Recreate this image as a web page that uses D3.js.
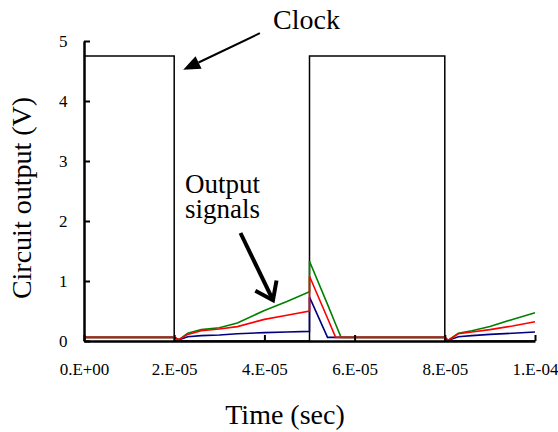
<!DOCTYPE html>
<html>
<head>
<meta charset="utf-8">
<script src="https://cdn.jsdelivr.net/npm/d3@7"></script>
<style>
  body { margin: 0; background: #fff; }
</style>
</head>
<body>
<script>
// time axis (sec)
const xTicks = [0, 2e-5, 4e-5, 6e-5, 8e-5, 1e-4];
const xTickLabels = ['0.E+00', '2.E-05', '4.E-05', '6.E-05', '8.E-05', '1.E-04'];
const yTicks = [0, 1, 2, 3, 4, 5];

// clock square wave
const clockTime = [0, 2e-5, 2e-5, 5e-5, 5e-5, 8e-5, 8e-5, 1e-4];
const clockVolt = [4.75, 4.75, 0, 0, 4.75, 4.75, 0, 0];

// output signals, shared time grid (units of 1e-5 sec)
const sigTime = [0, 2.0, 2.1, 2.3, 2.6, 3.0, 3.4, 4.0, 4.5, 5.0, 5.0, 5.4, 5.58, 5.7, 8.0, 8.07, 8.3, 8.6, 9.0, 9.5, 10.0];
const blueVals  = [0.06, 0.06, 0.02, 0.07, 0.09, 0.10, 0.12, 0.14, 0.15, 0.16, 0.73, 0.06, 0.06, 0.06, 0.06, 0.01, 0.07, 0.09, 0.11, 0.13, 0.15];
const redVals   = [0.06, 0.06, 0.02, 0.11, 0.17, 0.20, 0.24, 0.36, 0.43, 0.50, 1.08, 0.38, 0.06, 0.06, 0.06, 0.01, 0.12, 0.15, 0.19, 0.25, 0.32];
const greenVals = [0.06, 0.06, 0.02, 0.13, 0.19, 0.22, 0.30, 0.51, 0.66, 0.82, 1.33, 0.61, 0.28, 0.06, 0.06, 0.01, 0.13, 0.17, 0.24, 0.36, 0.47];

const series = [
  { name: 'blue', color: '#000080', values: blueVals },
  { name: 'green', color: '#008000', values: greenVals },
  { name: 'red', color: '#ff0000', values: redVals }
];

const serif = '"Liberation Serif", "Times New Roman", serif';
const width = 558, height = 432;
const margin = { top: 41, right: 23, bottom: 91, left: 84 };

const svg = d3.select('body').append('svg')
  .attr('width', width)
  .attr('height', height);

const x = d3.scaleLinear().domain([0, 1e-4]).range([margin.left, width - margin.right]);
const y = d3.scaleLinear().domain([0, 5]).range([height - margin.bottom, margin.top]);

const line = d3.line().x(d => x(d[0])).y(d => y(d[1]));

// clock
svg.append('path')
  .datum(clockTime.map((t, i) => [t, clockVolt[i]]))
  .attr('d', line)
  .attr('fill', 'none')
  .attr('stroke', '#000')
  .attr('stroke-width', 1.5);

// signals
svg.selectAll('path.sig')
  .data(series)
  .join('path')
  .attr('class', 'sig')
  .attr('d', s => line(sigTime.map((t, i) => [t * 1e-5, s.values[i]])))
  .attr('fill', 'none')
  .attr('stroke', s => s.color)
  .attr('stroke-width', 1.6);

// axes
const xAxis = d3.axisBottom(x)
  .tickValues(xTicks)
  .tickFormat((d, i) => xTickLabels[i])
  .tickSizeInner(-6)
  .tickSizeOuter(0)
  .tickPadding(22);

const gx = svg.append('g')
  .attr('transform', `translate(0,${y(0)})`)
  .call(xAxis);

const yAxis = d3.axisLeft(y)
  .tickValues(yTicks)
  .tickFormat(d3.format('d'))
  .tickSizeInner(-6)
  .tickSizeOuter(0)
  .tickPadding(20);

const gy = svg.append('g')
  .attr('transform', `translate(${x(0)},0)`)
  .call(yAxis);

[gx, gy].forEach(g => {
  g.attr('font-family', serif);
  g.select('.domain').attr('stroke', '#000').attr('stroke-width', 2.5);
  g.selectAll('.tick line').attr('stroke', '#000').attr('stroke-width', 2);
  g.selectAll('.tick text')
    .attr('font-family', serif)
    .attr('font-size', 17)
    .attr('fill', '#000');
});
gy.selectAll('.tick text').attr('dx', '0.2em');

function label(txt, px, py, size) {
  return svg.append('text')
    .attr('x', px)
    .attr('y', py)
    .attr('font-family', serif)
    .attr('font-size', size)
    .attr('fill', '#000')
    .text(txt);
}

// axis titles
label('Time (sec)', 285, 424, 28).attr('text-anchor', 'middle');
label('Circuit output (V)', 0, 0, 28)
  .attr('text-anchor', 'middle')
  .attr('transform', 'translate(31,198) rotate(-90)');

// annotations
label('Clock', 273, 29, 28);
label('Output', 185, 193, 27);
label('signals', 185, 218, 27);

// clock arrow (filled head)
const clockFrom = [3.9e-5, 5.13], clockTip = [2.2e-5, 4.52];
const cx0 = x(clockFrom[0]), cy0 = y(clockFrom[1]);
const cx1 = x(clockTip[0]), cy1 = y(clockTip[1]);
const ca = Math.atan2(cy1 - cy0, cx1 - cx0);
const headLen = 17, headW = 7;
const bx = cx1 - headLen * Math.cos(ca), by = cy1 - headLen * Math.sin(ca);
svg.append('line')
  .attr('x1', cx0).attr('y1', cy0)
  .attr('x2', bx).attr('y2', by)
  .attr('stroke', '#000').attr('stroke-width', 2);
svg.append('path')
  .attr('d', `M${cx1},${cy1}L${bx + headW * Math.sin(ca)},${by - headW * Math.cos(ca)}L${bx - headW * Math.sin(ca)},${by + headW * Math.cos(ca)}Z`)
  .attr('fill', '#000');

// output signals arrow (open head)
const outFrom = [3.47e-5, 1.8], outTip = [4.19e-5, 0.68];
const ox0 = x(outFrom[0]), oy0 = y(outFrom[1]);
const ox1 = x(outTip[0]), oy1 = y(outTip[1]);
const oa = Math.atan2(oy1 - oy0, ox1 - ox0);
const armLen = 20, armAng = Math.PI / 5;
svg.append('line')
  .attr('x1', ox0).attr('y1', oy0)
  .attr('x2', ox1).attr('y2', oy1)
  .attr('stroke', '#000').attr('stroke-width', 4);
svg.append('path')
  .attr('d', `M${ox1 - armLen * Math.cos(oa - armAng)},${oy1 - armLen * Math.sin(oa - armAng)}L${ox1},${oy1}L${ox1 - armLen * Math.cos(oa + armAng)},${oy1 - armLen * Math.sin(oa + armAng)}`)
  .attr('fill', 'none')
  .attr('stroke', '#000')
  .attr('stroke-width', 4)
  .attr('stroke-linejoin', 'miter');
</script>
</body>
</html>
